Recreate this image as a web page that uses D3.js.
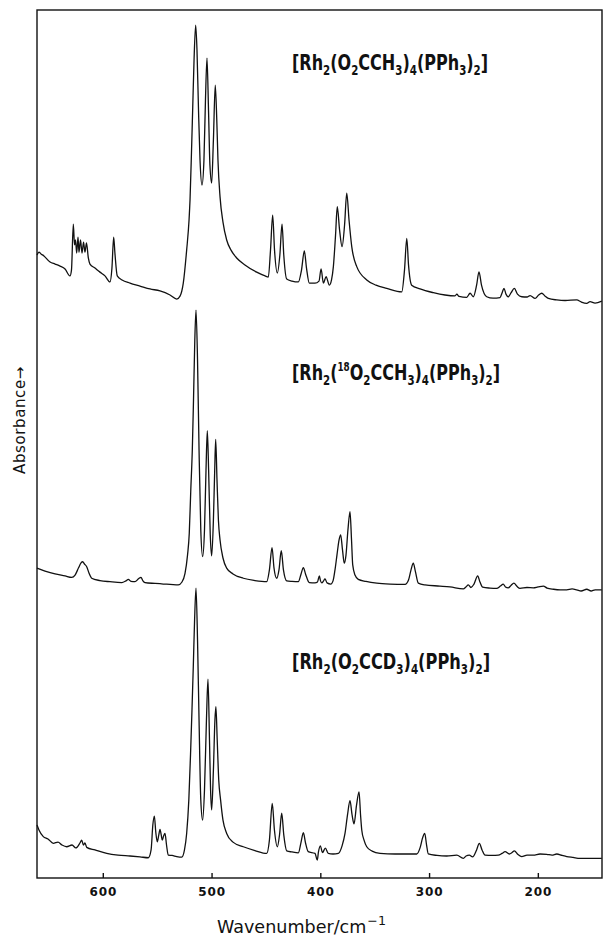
<!DOCTYPE html>
<html>
<head>
<meta charset="utf-8">
<script src="https://cdn.jsdelivr.net/npm/d3@7"></script>
<style>
  body { margin: 0; background: #fff; }
  text { fill: #111; }
</style>
</head>
<body>
<div id="chart"></div>
<script>
// far-IR spectra, [wavenumber cm-1, absorbance above own baseline]
var spec_acetate = [
 [660.5,0.153],[658.7,0.163],[656.8,0.157],[654.1,0.150],[648.5,0.129],[643.9,0.122],[639.3,0.115],
 [634.7,0.105],[630.2,0.081],[628.8,0.101],[627.1,0.260],[626.0,0.188],[625.1,0.205],[624.0,0.160],
 [622.8,0.215],[621.9,0.163],[620.5,0.205],[619.1,0.160],[617.7,0.198],[616.4,0.163],[615.0,0.195],
 [613.3,0.143],[611.8,0.122],[607.2,0.108],[602.6,0.094],[598.0,0.081],[593.4,0.060],[591.6,0.108],
 [590.0,0.215],[588.8,0.157],[586.7,0.081],[582.3,0.067],[575.0,0.056],[565.8,0.046],[556.6,0.036],
 [547.4,0.029],[538.2,0.015],[532.0,0.001],[529.0,0.011],[526.0,0.056],[522.9,0.170],[520.7,0.274],
 [519.8,0.343],[518.4,0.516],[517.3,0.665],[516.1,0.827],[514.6,0.948],[513.4,0.862],[512.0,0.654],
 [510.6,0.481],[508.8,0.395],[507.0,0.481],[505.6,0.689],[504.2,0.834],[502.8,0.654],[501.5,0.464],
 [499.9,0.402],[498.3,0.551],[496.6,0.740],[495.2,0.620],[494.1,0.481],[492.2,0.354],[489.5,0.267],
 [486.1,0.205],[482.1,0.170],[476.9,0.143],[469.3,0.119],[458.5,0.094],[450.8,0.081],[447.8,0.077],
 [445.8,0.170],[443.8,0.291],[442.1,0.170],[439.5,0.091],[437.2,0.153],[435.2,0.260],[433.6,0.153],
 [430.9,0.070],[426.0,0.063],[420.2,0.060],[417.3,0.101],[414.7,0.167],[412.7,0.108],[410.1,0.056],
 [404.9,0.056],[401.2,0.063],[399.3,0.105],[397.2,0.056],[394.7,0.078],[391.7,0.049],[389.7,0.067],
 [388.0,0.113],[386.0,0.222],[384.4,0.320],[382.3,0.240],[380.0,0.182],[377.7,0.257],[375.7,0.367],
 [373.6,0.274],[371.1,0.182],[366.5,0.113],[357.3,0.067],[348.8,0.049],[338.9,0.038],[325.1,0.026],
 [322.6,0.101],[320.5,0.211],[318.9,0.119],[316.0,0.049],[308.3,0.036],[296.1,0.023],[285.3,0.015],
 [276.1,0.012],[274.5,0.018],[272.4,0.010],[265.4,0.007],[262.3,0.021],[259.3,0.009],[256.3,0.049],
 [254.1,0.095],[251.8,0.049],[247.0,0.009],[241.2,0.004],[234.8,0.006],[232.9,0.022],[231.1,0.038],
 [229.3,0.018],[227.2,0.009],[224.7,0.022],[221.6,0.038],[218.7,0.018],[214.8,0.009],[209.9,0.008],
 [207.1,0.013],[202.5,0.003],[199.3,0.015],[196.4,0.021],[193.3,0.011],[190.3,0.003],[182.6,-0.002],
 [174.9,-0.004],[164.2,-0.002],[160.2,-0.009],[155.0,-0.014],[152.0,-0.008],[147.4,-0.013],[141.2,-0.006]
];

var spec_o18 = [
 [660.5,0.071],[653.1,0.061],[643.9,0.051],[634.7,0.044],[628.6,0.039],[625.5,0.047],[622.3,0.072],
 [620.0,0.089],[618.5,0.093],[616.8,0.085],[614.8,0.076],[612.7,0.054],[610.2,0.036],[602.6,0.028],
 [593.4,0.024],[582.6,0.021],[578.7,0.027],[576.5,0.032],[574.1,0.025],[570.4,0.024],[567.2,0.034],
 [564.9,0.039],[563.1,0.027],[561.2,0.021],[552.0,0.018],[544.4,0.016],[538.2,0.015],[530.6,0.013],
 [527.2,0.023],[524.4,0.053],[522.1,0.116],[520.5,0.191],[519.1,0.341],[517.7,0.479],[516.6,0.652],
 [515.4,0.860],[514.3,0.963],[512.9,0.790],[511.5,0.479],[509.9,0.203],[508.2,0.111],[506.5,0.203],
 [505.1,0.410],[503.9,0.546],[502.7,0.410],[501.2,0.186],[499.9,0.113],[498.3,0.237],[497.1,0.410],
 [496.2,0.516],[495.0,0.376],[493.7,0.237],[492.2,0.168],[489.5,0.106],[486.1,0.071],[480.3,0.051],
 [470.8,0.036],[460.1,0.028],[449.3,0.024],[446.8,0.065],[444.4,0.142],[442.6,0.072],[440.1,0.036],
 [438.0,0.065],[435.9,0.131],[433.9,0.065],[430.9,0.027],[426.0,0.025],[420.2,0.024],[417.7,0.051],
 [415.6,0.073],[413.6,0.051],[410.1,0.021],[404.9,0.020],[402.6,0.023],[400.9,0.044],[399.8,0.027],
 [398.7,0.020],[397.0,0.027],[395.7,0.034],[393.8,0.020],[390.4,0.016],[388.3,0.027],[386.5,0.065],
 [384.7,0.116],[382.8,0.168],[381.3,0.186],[379.6,0.134],[378.0,0.088],[376.4,0.116],[374.6,0.203],
 [372.7,0.266],[371.3,0.168],[370.2,0.082],[368.1,0.047],[365.1,0.032],[358.0,0.025],[348.1,0.019],
 [335.9,0.016],[322.1,0.015],[318.9,0.030],[316.6,0.065],[314.5,0.088],[312.5,0.058],[309.9,0.019],
 [303.8,0.013],[290.0,0.009],[280.8,0.006],[268.5,-0.001],[266.1,0.006],[263.9,0.013],[261.5,0.004],
 [258.7,0.016],[255.3,0.044],[253.2,0.023],[250.7,0.005],[244.0,0.002],[237.9,0.001],[234.4,0.009],
 [231.8,0.016],[229.8,0.006],[227.2,0.003],[224.7,0.011],[222.0,0.019],[219.2,0.008],[216.4,0.001],
 [210.0,0.004],[204.1,0.003],[199.8,0.006],[194.9,0.009],[191.5,0.002],[185.6,-0.002],[179.5,-0.004],
 [173.4,-0.004],[168.5,-0.001],[164.2,-0.004],[160.2,-0.008],[155.0,-0.002],[151.0,-0.008],[147.4,-0.004],
 [141.2,-0.004]
];

var spec_cd3 = [
 [660.5,0.183],[658.7,0.166],[654.7,0.143],[650.4,0.135],[645.5,0.120],[641.2,0.124],[637.5,0.114],
 [633.2,0.108],[628.3,0.114],[624.8,0.104],[621.0,0.121],[619.4,0.131],[617.8,0.114],[616.4,0.121],
 [614.8,0.106],[607.2,0.097],[596.4,0.085],[586.0,0.079],[575.0,0.076],[565.8,0.073],[558.1,0.070],
 [555.6,0.097],[554.0,0.183],[552.6,0.214],[551.3,0.159],[549.9,0.125],[548.5,0.149],[547.4,0.168],
 [546.3,0.149],[545.3,0.131],[544.1,0.145],[542.8,0.154],[541.4,0.114],[539.8,0.079],[536.3,0.078],
 [532.0,0.074],[527.4,0.072],[524.9,0.097],[522.9,0.154],[520.9,0.270],[519.2,0.442],[518.0,0.581],
 [516.8,0.730],[515.6,0.892],[514.3,1.002],[512.9,0.823],[511.5,0.546],[509.9,0.270],[508.2,0.200],
 [506.5,0.304],[504.7,0.546],[503.3,0.687],[501.9,0.477],[500.9,0.304],[499.9,0.235],[498.3,0.373],
 [496.9,0.546],[496.0,0.592],[494.8,0.477],[493.4,0.339],[491.7,0.270],[489.5,0.200],[486.1,0.154],
 [480.3,0.124],[470.8,0.108],[460.1,0.095],[449.3,0.085],[446.8,0.131],[444.2,0.258],[442.2,0.166],
 [439.5,0.108],[437.5,0.149],[435.5,0.224],[433.6,0.149],[430.9,0.094],[426.0,0.090],[420.2,0.087],
 [417.7,0.124],[415.6,0.157],[413.6,0.121],[411.1,0.091],[404.9,0.085],[402.8,0.062],[401.7,0.090],
 [400.0,0.111],[398.0,0.088],[395.4,0.103],[392.7,0.085],[388.3,0.083],[383.4,0.085],[380.0,0.111],
 [377.3,0.154],[375.0,0.218],[372.7,0.267],[370.8,0.218],[369.0,0.187],[366.7,0.252],[364.4,0.298],
 [363.0,0.218],[361.9,0.166],[359.8,0.131],[357.3,0.108],[352.4,0.093],[345.1,0.085],[331.3,0.083],
 [317.5,0.083],[311.3,0.083],[308.3,0.104],[306.0,0.138],[304.0,0.154],[302.3,0.114],[300.7,0.083],
 [292.7,0.078],[283.8,0.076],[274.5,0.079],[268.5,0.068],[266.0,0.076],[263.0,0.079],[260.0,0.073],
 [256.3,0.097],[253.8,0.120],[251.3,0.097],[248.5,0.079],[242.1,0.078],[236.3,0.079],[232.9,0.085],
 [230.1,0.091],[226.2,0.083],[223.7,0.088],[221.6,0.094],[218.2,0.081],[214.8,0.074],[209.9,0.079],
 [204.1,0.079],[198.0,0.083],[191.8,0.082],[187.0,0.079],[182.6,0.083],[177.7,0.078],[173.4,0.074],
 [167.6,0.071],[161.3,0.068],[152.0,0.068],[141.2,0.068]
];

var tickVals = [600, 500, 400, 300, 200];

// formula labels, pieces: [text, "" | "sub" | "sup"]
var label_acetate = [["[Rh",""],["2","sub"],["(O",""],["2","sub"],["CCH",""],["3","sub"],[")",""],["4","sub"],
                     ["(PPh",""],["3","sub"],[")",""],["2","sub"],["]",""]];
var label_o18 = [["[Rh",""],["2","sub"],["(",""],["18","sup"],["O",""],["2","sub"],["CCH",""],["3","sub"],[")",""],
                 ["4","sub"],["(PPh",""],["3","sub"],[")",""],["2","sub"],["]",""]];
var label_cd3 = [["[Rh",""],["2","sub"],["(O",""],["2","sub"],["CCD",""],["3","sub"],[")",""],["4","sub"],
                 ["(PPh",""],["3","sub"],[")",""],["2","sub"],["]",""]];

var width = 603, height = 940;
var margin = {top: 10, right: 1, bottom: 62, left: 37};

var svg = d3.select("#chart")
  .append("svg")
    .attr("width", width)
    .attr("height", height);

var x = d3.scaleLinear()
    .domain([660.5, 141])
    .range([margin.left, width - margin.right]);

var y = d3.scaleLinear()
    .domain([0, 3])
    .range([height - margin.bottom, margin.top]);

// scale font so a text comes out at the width it has in the scan
function fitWidth(t, fs, target) {
    var w = t.node().getComputedTextLength();
    t.attr("font-size", fs * target / w);
}

// frame
svg.append("rect")
    .attr("x", margin.left)
    .attr("y", margin.top)
    .attr("width", width - margin.right - margin.left)
    .attr("height", height - margin.bottom - margin.top)
    .attr("fill", "none")
    .attr("stroke", "#111")
    .attr("stroke-width", 1.4);

// x axis, ticks pointing inwards
var xAxis = svg.append("g")
    .attr("transform", "translate(0," + (height - margin.bottom) + ")")
    .call(d3.axisBottom(x).tickValues(tickVals).tickSizeInner(-5).tickSizeOuter(0).tickPadding(9));
xAxis.select(".domain").remove();
xAxis.selectAll("line").attr("stroke", "#111").attr("stroke-width", 1.4);
xAxis.selectAll("text")
    .attr("font-family", "DejaVu Sans")
    .attr("font-weight", "bold")
    .attr("font-size", 12)
    .attr("letter-spacing", 0.8)
    .style("fill", "#111");

var tit = svg.append("text")
    .attr("x", 217)
    .attr("y", 933)
    .attr("font-family", "DejaVu Sans")
    .attr("font-size", 15);
tit.append("tspan").text("Wavenumber/cm");
tit.append("tspan").attr("dx", 1).attr("y", 925).attr("font-size", "0.72em").text("\u22121");
fitWidth(tit, 15, 168);

svg.append("text")
    .attr("transform", "translate(25,420) rotate(-90)")
    .attr("text-anchor", "middle")
    .attr("font-family", "DejaVu Sans")
    .attr("font-size", 15)
    .attr("letter-spacing", 0.6)
    .text("Absorbance\u2192");

// spectra, stacked one unit apart
var traces = [spec_acetate, spec_o18, spec_cd3];
traces.forEach(function(data, i) {
    var off = 2 - i;
    var valueline = d3.line()
        .x(function(d) { return x(d[0]); })
        .y(function(d) { return y(d[1] + off); })
        .curve(d3.curveMonotoneX);
    svg.append("path")
        .attr("fill", "none")
        .attr("stroke", "#111")
        .attr("stroke-width", 1.3)
        .attr("stroke-linejoin", "round")
        .attr("d", valueline(data));
});

// formula labels (plotter lettering is tall and narrow -> stretch vertically)
var labels = [label_acetate, label_o18, label_cd3];
var labelY = [70, 380, 669];
var labelW = [196, 208, 198];
labels.forEach(function(parts, i) {
    var t = svg.append("text")
        .attr("transform", "translate(292," + labelY[i] + ") scale(1,1.22)")
        .attr("font-family", "DejaVu Sans Condensed, DejaVu Sans")
        .attr("font-stretch", "condensed")
        .attr("font-weight", "bold")
        .attr("font-size", 22);
    parts.forEach(function(p) {
        var s = t.append("tspan").text(p[0]);
        if (p[1] == "sub") s.attr("y", 4).attr("font-size", "0.64em");
        else if (p[1] == "sup") s.attr("y", -7.5).attr("font-size", "0.55em");
        else s.attr("y", 0);
    });
    fitWidth(t, 22, labelW[i]);
});
</script>
</body>
</html>
